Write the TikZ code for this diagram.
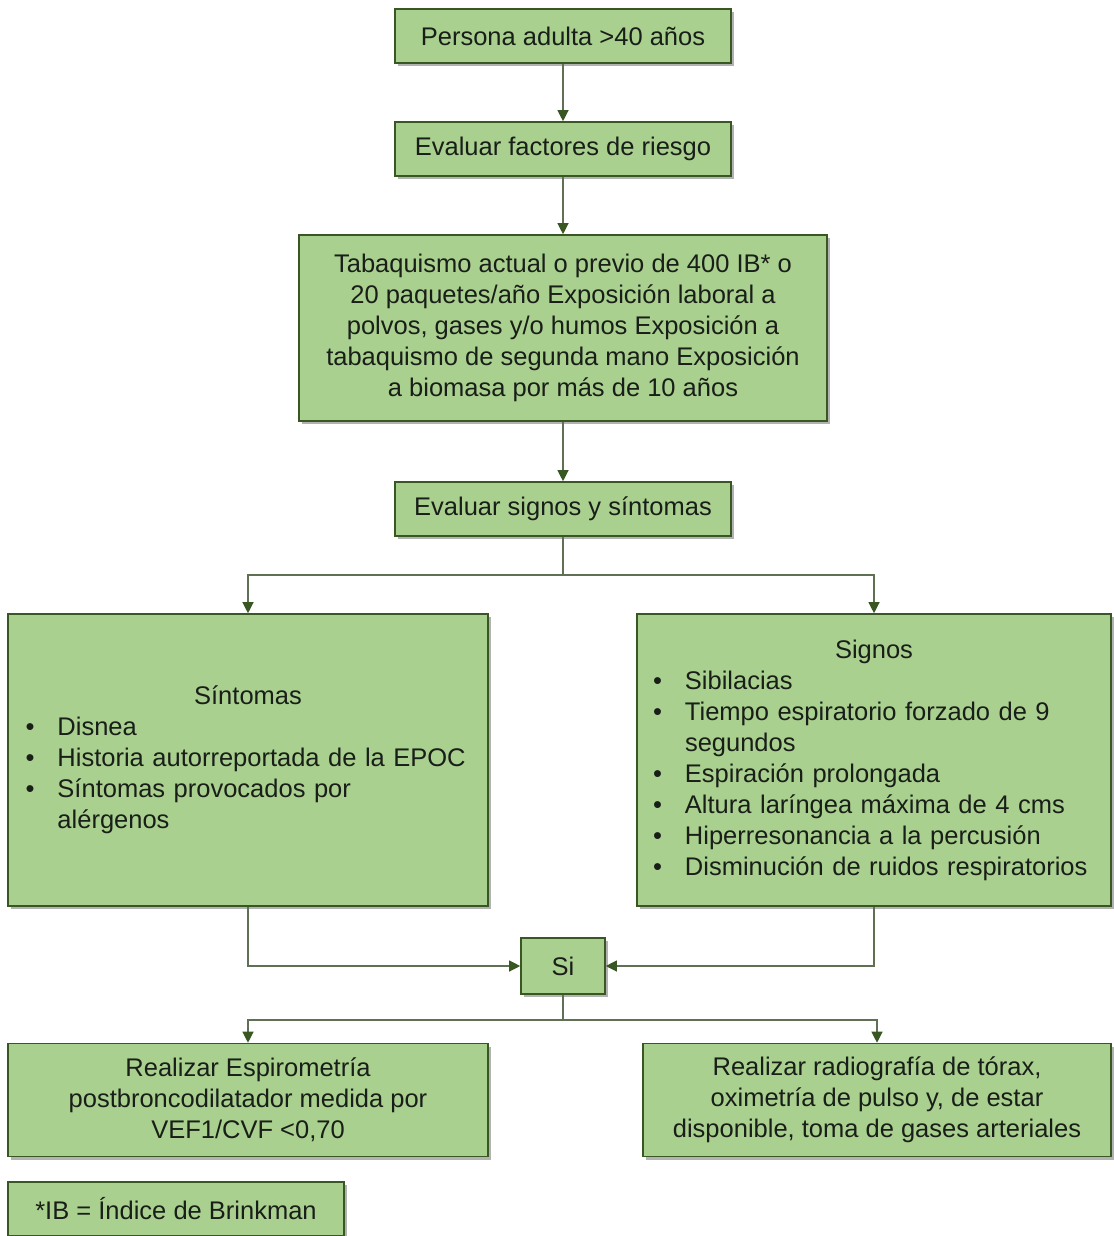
\documentclass[tikz,border=0pt]{standalone}
\usepackage{fontspec}
\setmainfont{Liberation Sans}
\usepackage{tikz}
\usetikzlibrary{arrows.meta, positioning, shadows}
\definecolor{boxfill}{RGB}{169,208,142}
\definecolor{boxedge}{RGB}{56,87,35}
\definecolor{linkgray}{RGB}{95,112,85}
\definecolor{inktext}{RGB}{25,30,25}
% bullet item with hanging indent
\newcommand{\bul}[1]{\par\hangindent=32pt\hangafter=1\noindent\makebox[32pt][l]{\textbullet}#1\par}

\begin{document}
\begin{tikzpicture}[
    x=1pt, y=-1pt,
    box/.style={draw=boxedge, line width=1.6pt, fill=boxfill, text=inktext,
                font=\fontsize{25.5}{31}\selectfont, align=center, inner sep=0pt,
                drop shadow={shadow xshift=3pt, shadow yshift=-3pt, fill=black, opacity=0.3}},
    arr/.style={-{Triangle[width=11pt, length=11pt, color=boxedge]}, color=linkgray, line width=1.2pt},
]
\fill[white] (0,0) rectangle (1113,1236);
\useasboundingbox (0,0) rectangle (1113,1236);

\node[box, minimum width=336pt, minimum height=54pt] (adulto) at (563,36) {Persona adulta >40 años};
\node[box, minimum width=336pt, minimum height=54pt] (factores) at (563,149) {Evaluar factores de riesgo};
\node[box, minimum width=528pt, minimum height=186pt] (tabaco) at (563,328)
    {Tabaquismo actual o previo de 400 IB* o\\20 paquetes/año Exposición laboral a\\polvos, gases y/o humos Exposición a\\tabaquismo de segunda mano Exposición\\a biomasa por más de 10 años};
\node[box, minimum width=336pt, minimum height=54pt] (evalss) at (563,509) {Evaluar signos y síntomas};

\node[box, minimum width=480pt, minimum height=292pt, align=left, text width=445pt] (sintomas) at (248,760)
    {\makebox[\linewidth]{Síntomas}\bul{Disnea}\bul{Historia autorreportada de la EPOC}\bul{Síntomas provocados por\newline alérgenos}};
\node[box, minimum width=474pt, minimum height=292pt, align=left, text width=442pt] (signos) at (874,760)
    {\makebox[\linewidth]{Signos}\bul{Sibilacias}\bul{Tiempo espiratorio forzado de 9\newline segundos}\bul{Espiración prolongada}\bul{Altura laríngea máxima de 4 cms}\bul{Hiperresonancia a la percusión}\bul{Disminución de ruidos respiratorios}};

\node[box, minimum width=84pt, minimum height=56pt] (si) at (563,966) {Si};

\node[box, minimum width=480pt, minimum height=113pt] (espiro) at (248,1100)
    {Realizar Espirometría\\postbroncodilatador medida por\\VEF1/CVF <0,70};
\node[box, minimum width=468pt, minimum height=113pt] (radio) at (877,1100)
    {Realizar radiografía de tórax,\\oximetría de pulso y, de estar\\disponible, toma de gases arteriales};

\node[box, minimum width=336pt, minimum height=54pt] (nota) at (176,1209) {*IB = Índice de Brinkman};

\coordinate (split1) at (563,575);
\coordinate (split2) at (563,1020);

\draw[arr] (adulto) -- (factores);
\draw[arr] (factores) -- (tabaco);
\draw[arr] (tabaco) -- (evalss);
\draw[arr] (evalss) -- (split1) -| (sintomas);
\draw[arr] (evalss) -- (split1) -| (signos);
\draw[arr] (sintomas) |- (si);
\draw[arr] (signos) |- (si);
\draw[arr] (si) -- (split2) -| (espiro);
\draw[arr] (si) -- (split2) -| (radio);
\end{tikzpicture}
\end{document}
